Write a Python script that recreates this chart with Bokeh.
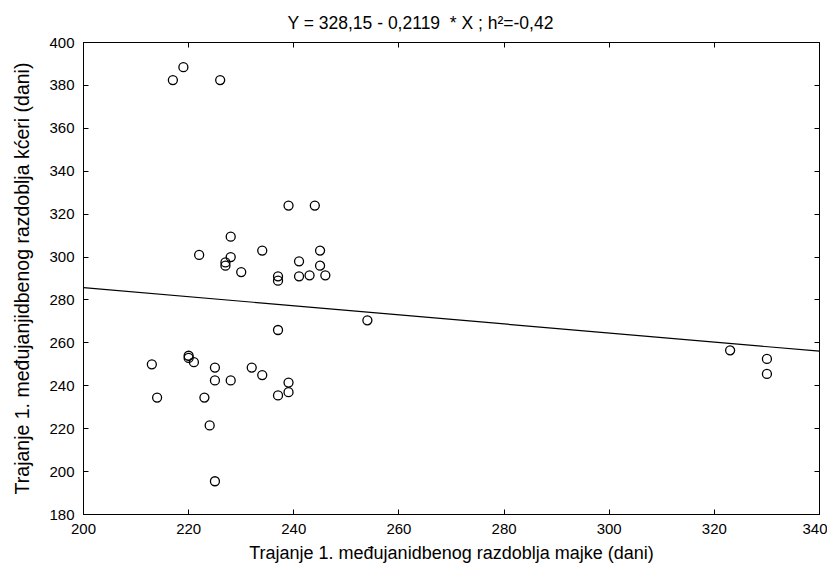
from bokeh.plotting import figure
from bokeh.models import Range1d, LinearAxis, SingleIntervalTicker, Title, ColumnDataSource
from bokeh.embed import file_html
from bokeh.resources import INLINE
import numpy as np

# Data
mother_days = [217, 219, 226,
               239, 244, 228, 222, 228, 227, 227, 230, 234, 237, 237, 241, 241, 243, 245, 245, 246,
               237, 220, 220, 221, 213, 225, 225, 228, 232, 234, 239, 239, 237, 214, 223, 224, 225,
               254,
               323, 330, 330]
daughter_days = [382.5, 388.5, 382.5,
                 324, 324, 309.5, 301, 300, 297.5, 296, 293, 303, 291, 289, 298, 291, 291.5, 303, 296, 291.5,
                 266, 254, 253, 251, 250, 248.5, 242.5, 242.5, 248.5, 245, 241.5, 237, 235.5, 234.5, 234.5, 221.5, 195.5,
                 270.5,
                 256.5, 252.5, 245.5]
intercept = [328.15]
slope = [-0.2119]
tick_values = list(range(180, 401, 20))
x_tick_values = list(range(200, 341, 20))
title_text = "Y = 328,15 - 0,2119\u00a0\u00a0* X ; h\u00b2=-0,42"
x_label = "Trajanje 1. me\u0111ujanidbenog razdoblja majke (dani)"
y_label = "Trajanje 1. me\u0111ujanjidbenog razdoblja k\u0107eri (dani)"

FONT = "Liberation Sans"

p = figure(width=827, height=569, output_backend="svg", toolbar_location=None,
           x_range=Range1d(200, 340), y_range=Range1d(180, 400),
           min_border_left=83, min_border_right=8, min_border_top=42, min_border_bottom=55,
           x_axis_label=x_label, y_axis_label=y_label)
p.title.visible = False

p.xgrid.visible = False
p.ygrid.visible = False
p.outline_line_color = "black"
p.outline_line_width = 1
p.background_fill_color = "white"
p.border_fill_color = "white"

def style_axis(ax, ticks, show_labels=True):
    ax.ticker = SingleIntervalTicker(interval=20, num_minor_ticks=0)
    ax.major_tick_in = 5
    ax.major_tick_out = 0
    ax.minor_tick_in = 0
    ax.minor_tick_out = 0
    ax.axis_line_color = "black"
    ax.major_tick_line_color = "black"
    ax.major_label_text_font = FONT
    ax.major_label_text_color = "black"
    ax.axis_label_text_font = FONT
    ax.axis_label_text_font_style = "normal"
    ax.axis_label_text_color = "black"
    ax.axis_label_text_font_size = "18px"
    ax.major_label_text_font_size = "15px"
    if show_labels:
        ax.major_label_standoff = 9
    else:
        ax.major_label_standoff = 0
        ax.major_label_overrides = {t: "" for t in ticks}

style_axis(p.xaxis[0], x_tick_values)
style_axis(p.yaxis[0], tick_values)
p.xaxis.axis_label_standoff = 6
p.yaxis.axis_label_standoff = 13
p.yaxis.axis_label_text_font_size = "19.5px"

top = LinearAxis()
right = LinearAxis()
style_axis(top, x_tick_values, False)
style_axis(right, tick_values, False)
p.add_layout(top, "above")
p.add_layout(right, "right")

p.add_layout(Title(text=title_text, align="left", offset=204, text_font=FONT,
                   text_font_size="17.5px", text_font_style="normal", text_color="black",
                   standoff=19), "above")

# Regression line computed from coefficients
xs = np.array([p.x_range.start, p.x_range.end], dtype=float)
ys = intercept[0] + slope[0] * xs
p.line(xs, ys, line_color="black", line_width=1.2)

src = ColumnDataSource(dict(x=mother_days, y=daughter_days))
p.scatter("x", "y", source=src, marker="circle", size=9, fill_alpha=0,
          line_color="black", line_width=1.3)

open("out.html", "w").write(file_html(p, INLINE))
